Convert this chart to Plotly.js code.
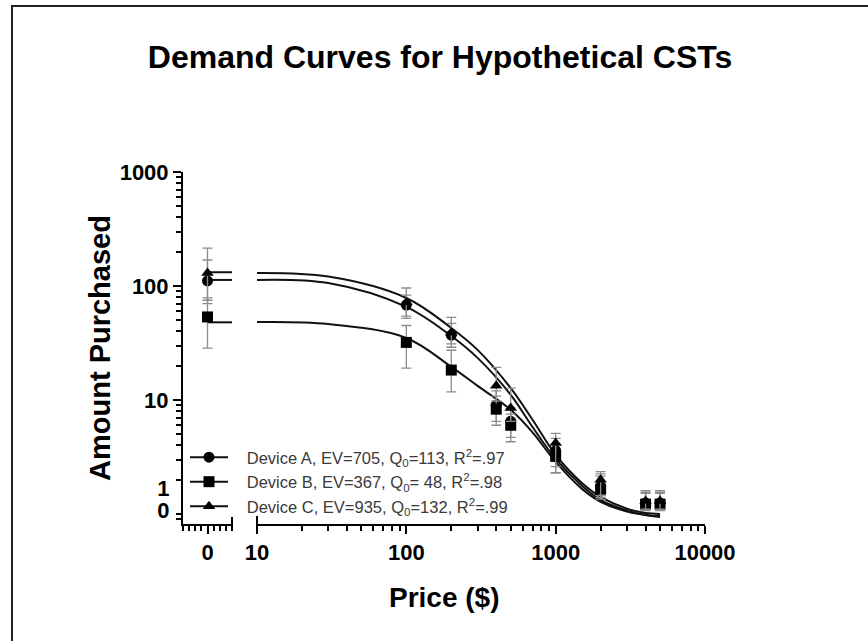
<!DOCTYPE html>
<html>
<head>
<meta charset="utf-8">
<script src="https://cdn.plot.ly/plotly-3.0.1.min.js"></script>
<style>html,body{margin:0;padding:0;background:#fff;}#chart{width:868px;height:641px;}</style>
</head>
<body>
<div id="chart"></div>
<script>
// ---- data ----
const prices = [0, 100, 200, 400, 500, 1000, 2000, 4000, 5000];
const deviceA = [111, 68, 37, 9, 6.5, 3.6, 1.75, 1.25, 1.25];
const deviceB = [53.5, 32, 18.3, 8.3, 6.0, 3.2, 1.65, 1.22, 1.22];
const deviceC = [130, 72, 39, 13.3, 8.5, 4.2, 2.0, 1.3, 1.3];
const errPlusA = [58, 15, 10, 3, 2, 1.0, 0.5, 0.3, 0.3];
const errMinusA = [41, 13.5, 8, 2.5, 1.8, 1.0, 0.3, 0.15, 0.15];
const errPlusB = [25, 13, 9, 2.5, 1.5, 0.9, 0.5, 0.3, 0.3];
const errMinusB = [25, 13, 6.5, 2.3, 1.7, 0.9, 0.3, 0.15, 0.15];
const errPlusC = [85, 24, 14, 6, 4.2, 0.9, 0.35, 0.3, 0.3];
const errMinusC = [55, 20, 8, 3.5, 2, 1.9, 0.6, 0.2, 0.2];

const curvePrices = [10, 30, 100, 200, 300, 500, 700, 1000, 1500, 2000, 3000, 4000, 5000];
const fitA = [113, 106, 65.5, 36.4, 23.4, 11.1, 5.8, 3.04, 1.77, 1.33, 1.07, 0.98, 0.96];
const fitB = [48.3, 46.4, 35, 19.5, 13.3, 8.2, 5.2, 2.86, 1.66, 1.28, 1.05, 0.98, 0.94];
const fitC = [130, 121, 78.5, 42.8, 27.5, 12.7, 6.7, 3.3, 1.87, 1.41, 1.11, 1.02, 1.0];

// fitted value at price 0 (Q0), drawn from the price-0 point to the axis break
const zeroSegX = [0, 1];
const q0 = {A: 113, B: 48, C: 132};

const PAD = '&nbsp;&nbsp;&nbsp;';
const names = {
  A: PAD + 'Device A, EV=705, Q<sub>0</sub>=113, R<sup>2</sup>=.97',
  B: PAD + 'Device B, EV=367, Q<sub>0</sub>= 48, R<sup>2</sup>=.98',
  C: PAD + 'Device C, EV=935, Q<sub>0</sub>=132, R<sup>2</sup>=.99'
};
const symbols = {A: 'circle', B: 'square', C: 'triangle-up'};

const yTickVals = [10, 100, 1000];
const yTickText = ['10', '100', '1000'];
const yLowTickVals = [1.08, 1.68];
const yLowTickText = ['0', '1'];
const xTickVals = [10, 100, 1000, 10000];
const xTickText = ['10', '100', '1000', '10000'];

// ---- build traces ----
const series = {
  A: {y: deviceA, ep: errPlusA, em: errMinusA, fit: fitA},
  B: {y: deviceB, ep: errPlusB, em: errMinusB, fit: fitB},
  C: {y: deviceC, ep: errPlusC, em: errMinusC, fit: fitC}
};
const traces = [];
const lineStyle = {color: '#111', width: 2};
const errStyle = {color: '#8c8c8c', thickness: 1.3, width: 5};

['A', 'B', 'C'].forEach(k => {
  const s = series[k];
  traces.push({x: curvePrices, y: s.fit, xaxis: 'x2', yaxis: 'y', mode: 'lines',
    line: Object.assign({shape: 'spline', smoothing: 1}, lineStyle), showlegend: false, hoverinfo: 'skip'});
  traces.push({x: zeroSegX, y: zeroSegX.map(() => q0[k]), xaxis: 'x', yaxis: 'y', mode: 'lines',
    line: lineStyle, showlegend: false, hoverinfo: 'skip'});
});
const idx0 = prices.map((p, i) => i).filter(i => prices[i] === 0);
const idxP = prices.map((p, i) => i).filter(i => prices[i] > 0);
const pick = (arr, idx) => idx.map(i => arr[i]);
['A', 'B', 'C'].forEach(k => {
  const s = series[k];
  // price-0 point: single point, so 'lines+markers' draws only the marker but gives the legend a line
  traces.push({x: pick(prices, idx0), y: pick(s.y, idx0), xaxis: 'x', yaxis: 'y', mode: 'lines+markers',
    name: names[k], line: lineStyle,
    marker: {symbol: symbols[k], size: 11, color: '#000'},
    error_y: Object.assign({type: 'data', symmetric: false, array: pick(s.ep, idx0), arrayminus: pick(s.em, idx0)}, errStyle),
    showlegend: true});
  traces.push({x: pick(prices, idxP), y: pick(s.y, idxP), xaxis: 'x2', yaxis: 'y', mode: 'markers',
    marker: {symbol: symbols[k], size: 11, color: '#000'},
    error_y: Object.assign({type: 'data', symmetric: false, array: pick(s.ep, idxP), arrayminus: pick(s.em, idxP)}, errStyle),
    showlegend: false});
});
// host trace for the low tick-label axis (price-0 point, not drawable on the log axis)
traces.push({x: pick(prices, idx0), y: pick(deviceA, idx0), xaxis: 'x2', yaxis: 'y2', mode: 'markers',
  showlegend: false, hoverinfo: 'skip'});

const FONT = 'Liberation Sans, Arial, sans-serif';
const W = 868, H = 641, L = 183, R = 163, T = 172, B = 117;
const pw = W - L - R, ph = H - T - B;
const px = v => (v - L) / pw;
const py = v => (H - B - v) / ph;
const yRange = [-0.088, 3];

const axisCommon = {showgrid: false, zeroline: false, showline: true, linecolor: '#000', linewidth: 2,
  ticks: 'outside', tickcolor: '#000', tickwidth: 2, ticklen: 8,
  tickfont: {family: FONT, size: 22, color: '#000', weight: 'bold'}};

const layout = {
  width: W, height: H,
  margin: {l: L, r: R, t: T, b: B},
  paper_bgcolor: '#fff', plot_bgcolor: '#fff',
  title: {text: 'Demand Curves for Hypothetical CSTs', x: 440 / W, xref: 'container', xanchor: 'center',
    y: 1 - 57 / H, yref: 'container', yanchor: 'middle',
    font: {family: FONT, size: 32, color: '#000', weight: 'bold'}},
  xaxis: Object.assign({}, axisCommon, {domain: [0, px(232)], range: [-1, 1], tickvals: [0], ticktext: ['0'],
    anchor: 'y', minor: {ticks: 'outside', ticklen: 5, tickwidth: 2, tickcolor: '#000', dtick: 0.25}}),
  xaxis2: Object.assign({}, axisCommon, {domain: [px(257), 1], type: 'log', range: [1, 4], anchor: 'y',
    tickvals: xTickVals, ticktext: xTickText,
    minor: {ticks: 'outside', ticklen: 5, tickwidth: 2, tickcolor: '#000', dtick: 'D1'}}),
  yaxis: Object.assign({}, axisCommon, {type: 'log', range: yRange, anchor: 'x', tickvals: yTickVals, ticktext: yTickText,
    minor: {ticks: 'outside', ticklen: 5, tickwidth: 2, tickcolor: '#000', dtick: 'D1'},
    title: {text: 'Amount Purchased', standoff: 0, font: {family: FONT, size: 29, color: '#000', weight: 'bold'}}}),
  yaxis2: Object.assign({}, axisCommon, {type: 'log', range: yRange, overlaying: 'y', anchor: 'x', side: 'left',
    showline: false, tickcolor: 'rgba(0,0,0,0)', tickvals: yLowTickVals, ticktext: yLowTickText}),
  showlegend: true,
  legend: {x: px(185), xanchor: 'left', y: py(440), yanchor: 'top', bgcolor: 'rgba(0,0,0,0)',
    font: {family: FONT, size: 16.5, color: '#3a3a3a'}, itemwidth: 38, tracegroupgap: 0},
  annotations: [
    {text: 'Price ($)', xref: 'paper', yref: 'paper', x: px(444), y: py(597), xanchor: 'center', yanchor: 'middle',
      showarrow: false, font: {family: FONT, size: 28, color: '#000', weight: 'bold'}}
  ],
  shapes: [
    {type: 'rect', xref: 'paper', yref: 'paper', x0: px(12), x1: px(1100), y0: py(900), y1: py(6),
      line: {color: '#222', width: 2}, layer: 'below'},
    {type: 'line', xref: 'paper', yref: 'paper', x0: px(232), x1: px(232), y0: py(531), y1: py(517), line: {color: '#000', width: 2}},
    {type: 'line', xref: 'paper', yref: 'paper', x0: px(257), x1: px(257), y0: py(532), y1: py(516), line: {color: '#000', width: 2}}
  ]
};

Plotly.newPlot('chart', traces, layout, {displayModeBar: false, staticPlot: true});
</script>
</body>
</html>
